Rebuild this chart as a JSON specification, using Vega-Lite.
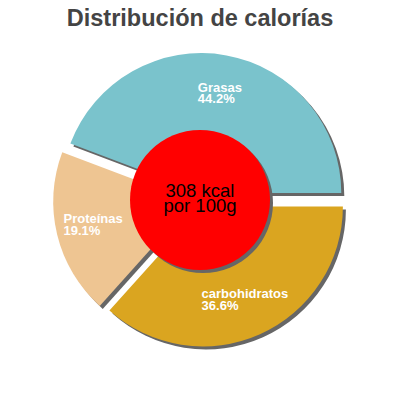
{
  "$schema": "https://vega.github.io/schema/vega-lite/v6.json",
  "width": 400,
  "height": 320,
  "autosize": "none",
  "padding": {"top": 40, "left": 0, "right": 0, "bottom": 40},
  "title": {
    "text": "Distribución de calorías",
    "font": "Liberation Sans",
    "fontSize": 23.5,
    "fontWeight": "bold",
    "color": "#444444",
    "anchor": "middle",
    "offset": 10
  },
  "data": {
    "values": [
      {"name": "Grasas", "value": 44.2},
      {"name": "Proteínas", "value": 19.1},
      {"name": "carbohidratos", "value": 36.6}
    ]
  },
  "transform": [
    {"stack": "value", "groupby": [], "sort": [{"field": "name"}], "as": ["v0", "v1"]},
    {"calculate": "(datum.v0 + datum.v1) / 2", "as": "mid"},
    {"calculate": "[datum.name, format(datum.value / 100, '.1%')]", "as": "label"}
  ],
  "encoding": {
    "theta": {"field": "v0", "type": "quantitative", "scale": {"domain": [0, 99.9], "range": [1.5708, -4.7124]}},
    "theta2": {"field": "v1"}
  },
  "layer": [
    {
      "transform": [{"filter": "datum.name == 'Grasas'"}],
      "mark": {"type": "arc", "radius": 140, "color": "#666666", "xOffset": 4.3, "yOffset": -3.9}
    },
    {
      "transform": [{"filter": "datum.name == 'Proteínas'"}],
      "mark": {"type": "arc", "radius": 140, "color": "#666666", "xOffset": -3.8, "yOffset": 4.7}
    },
    {
      "transform": [{"filter": "datum.name == 'carbohidratos'"}],
      "mark": {"type": "arc", "radius": 140, "color": "#666666", "xOffset": 5.9, "yOffset": 9.4}
    },
    {
      "transform": [{"filter": "datum.name == 'Grasas'"}],
      "mark": {"type": "arc", "radius": 140, "color": "#7ac3cc", "xOffset": 1.3, "yOffset": -6.9}
    },
    {
      "transform": [{"filter": "datum.name == 'Proteínas'"}],
      "mark": {"type": "arc", "radius": 140, "color": "#eec592", "xOffset": -6.8, "yOffset": 1.7}
    },
    {
      "transform": [{"filter": "datum.name == 'carbohidratos'"}],
      "mark": {"type": "arc", "radius": 140, "color": "#daa520", "xOffset": 2.9, "yOffset": 6.4}
    },
    {
      "data": {"values": [{"kcal": 308}]},
      "mark": {"type": "arc", "radius": 70, "theta": 0, "theta2": 6.2832, "color": "#666666", "xOffset": 3, "yOffset": 3},
      "encoding": {"theta": null, "theta2": null}
    },
    {
      "data": {"values": [{"kcal": 308}]},
      "mark": {"type": "arc", "radius": 70, "theta": 0, "theta2": 6.2832, "color": "#ff0000"},
      "encoding": {"theta": null, "theta2": null}
    },
    {
      "transform": [{"filter": "datum.name == 'Grasas'"}],
      "mark": {"type": "text", "radius": 103, "align": "left", "baseline": "alphabetic", "dx": -22, "dy": 0, "xOffset": 1.3, "yOffset": -6.9, "font": "Liberation Sans", "fontSize": 13, "fontWeight": "bold", "lineHeight": 11, "color": "white"},
      "encoding": {"theta": {"field": "mid", "type": "quantitative", "stack": null}, "theta2": null, "text": {"field": "label"}}
    },
    {
      "transform": [{"filter": "datum.name == 'Proteínas'"}],
      "mark": {"type": "text", "radius": 103, "align": "left", "baseline": "alphabetic", "dx": -29.6, "dy": -2.8, "xOffset": -6.8, "yOffset": 1.7, "font": "Liberation Sans", "fontSize": 13, "fontWeight": "bold", "lineHeight": 11.7, "color": "white"},
      "encoding": {"theta": {"field": "mid", "type": "quantitative", "stack": null}, "theta2": null, "text": {"field": "label"}}
    },
    {
      "transform": [{"filter": "datum.name == 'carbohidratos'"}],
      "mark": {"type": "text", "radius": 103, "align": "left", "baseline": "alphabetic", "dx": -43.3, "dy": -2.2, "xOffset": 2.9, "yOffset": 6.4, "font": "Liberation Sans", "fontSize": 13, "fontWeight": "bold", "lineHeight": 12.2, "color": "white"},
      "encoding": {"theta": {"field": "mid", "type": "quantitative", "stack": null}, "theta2": null, "text": {"field": "label"}}
    },
    {
      "data": {"values": [{"line1": "308 kcal", "line2": "por 100g"}]},
      "transform": [{"calculate": "[datum.line1, datum.line2]", "as": "center"}],
      "mark": {"type": "text", "align": "center", "baseline": "alphabetic", "dy": -3.3, "font": "Liberation Sans", "fontSize": 18.5, "lineHeight": 15.6, "color": "black"},
      "encoding": {"theta": null, "theta2": null, "text": {"field": "center"}}
    }
  ],
  "config": {"view": {"stroke": null}}
}
